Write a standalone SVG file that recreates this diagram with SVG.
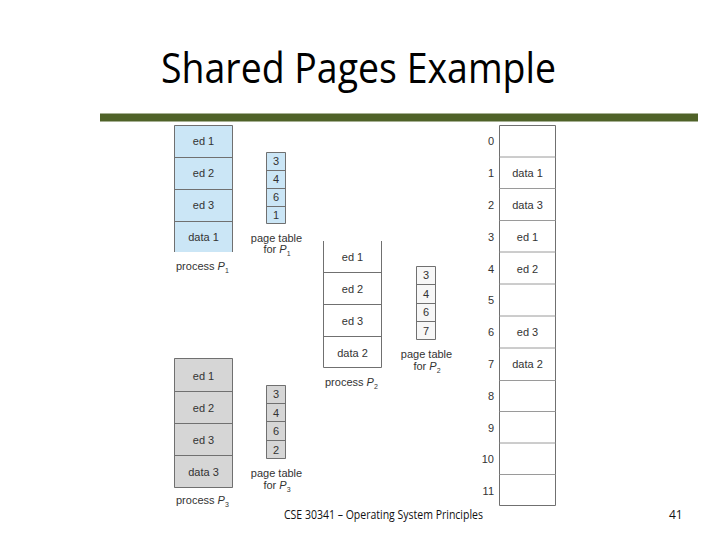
<svg xmlns="http://www.w3.org/2000/svg" width="720" height="540" viewBox="0 0 720 540">
<style>
.t{font-family:"Liberation Sans",Arial,sans-serif;font-size:11px;fill:#333;text-anchor:middle}
.n{font-family:"Liberation Sans",Arial,sans-serif;font-size:11px;fill:#333;text-anchor:end}
.sub{font-size:7px}
.ln{stroke:#707070;stroke-width:1;fill:none}
.lnl{stroke:#9a9a9a;stroke-width:1;fill:none}
.blue{fill:#cbe6f6}
.gray{fill:#d6d6d6}
.white{fill:#ffffff}
.title{font-family:"Open Sans","Liberation Sans",sans-serif;font-size:42px;fill:#000}
.foot{font-family:"Open Sans","Liberation Sans",sans-serif;font-size:12px;fill:#111}
</style>
<rect width="720" height="540" fill="#fff"/>
<g id="title"><text class="title" x="161" y="83" textLength="395" lengthAdjust="spacingAndGlyphs">Shared Pages Example</text></g>
<g id="bar"><rect x="100" y="113.5" width="598" height="8" fill="#4f6228"/></g>

<g id="process-p1">
<rect class="blue" x="174" y="125" width="59" height="127"/>
<path class="ln" d="M174.5 252V125.5H232.5V252M174.5 157.5H232.5M174.5 189.5H232.5M174.5 221.5H232.5"/>
<text class="t" x="203.5" y="145">ed 1</text>
<text class="t" x="203.5" y="177">ed 2</text>
<text class="t" x="203.5" y="209">ed 3</text>
<text class="t" x="203.5" y="240.5">data 1</text>
<text class="t" x="176" y="270" text-anchor="start" style="text-anchor:start">process <tspan font-style="italic">P</tspan><tspan class="sub" dy="3">1</tspan></text>
</g>

<g id="page-table-p1">
<rect class="blue" x="266" y="152" width="20" height="72"/>
<path class="ln" d="M266.5 152.5H285.5V223.5H266.5ZM266.5 170.5H285.5M266.5 188.5H285.5M266.5 206.5H285.5"/>
<text class="t" x="276" y="165">3</text>
<text class="t" x="276" y="183">4</text>
<text class="t" x="276" y="201">6</text>
<text class="t" x="276" y="219">1</text>
<text class="t" x="276.5" y="242">page table</text>
<text class="t" x="277" y="253">for <tspan font-style="italic">P</tspan><tspan class="sub" dy="3">1</tspan></text>
</g>

<g id="process-p2">
<rect class="white" x="323" y="241" width="59" height="127"/>
<path class="ln" d="M323.5 241V367.5H381.5V241M323.5 272.5H381.5M323.5 304.5H381.5M323.5 336.5H381.5"/>
<text class="t" x="352.5" y="261">ed 1</text>
<text class="t" x="352.5" y="293">ed 2</text>
<text class="t" x="352.5" y="324.5">ed 3</text>
<text class="t" x="352.5" y="356.5">data 2</text>
<text class="t" x="325" y="386" style="text-anchor:start">process <tspan font-style="italic">P</tspan><tspan class="sub" dy="3">2</tspan></text>
</g>

<g id="page-table-p2">
<rect fill="#f7f7f7" x="416" y="266" width="20" height="74"/>
<path class="ln" d="M416.5 266.5H435.5V339.5H416.5ZM416.5 284.5H435.5M416.5 303.5H435.5M416.5 321.5H435.5"/>
<text class="t" x="426" y="279">3</text>
<text class="t" x="426" y="298">4</text>
<text class="t" x="426" y="316">6</text>
<text class="t" x="426" y="335">7</text>
<text class="t" x="426.5" y="358">page table</text>
<text class="t" x="427" y="370">for <tspan font-style="italic">P</tspan><tspan class="sub" dy="3">2</tspan></text>
</g>

<g id="process-p3">
<rect class="gray" x="174" y="358" width="59" height="130"/>
<path class="ln" d="M174.5 358.5H232.5V487.5H174.5ZM174.5 391.5H232.5M174.5 423.5H232.5M174.5 455.5H232.5"/>
<text class="t" x="203.5" y="380">ed 1</text>
<text class="t" x="203.5" y="412">ed 2</text>
<text class="t" x="203.5" y="443.5">ed 3</text>
<text class="t" x="203.5" y="475.5">data 3</text>
<text class="t" x="176" y="504" style="text-anchor:start">process <tspan font-style="italic">P</tspan><tspan class="sub" dy="3">3</tspan></text>
</g>

<g id="page-table-p3">
<rect class="gray" x="266" y="385" width="20" height="74"/>
<path class="ln" d="M266.5 385.5H285.5V458.5H266.5ZM266.5 403.5H285.5M266.5 421.5H285.5M266.5 440.5H285.5"/>
<text class="t" x="276" y="398">3</text>
<text class="t" x="276" y="417">4</text>
<text class="t" x="276" y="435">6</text>
<text class="t" x="276" y="454">2</text>
<text class="t" x="276.5" y="477">page table</text>
<text class="t" x="277" y="488.5">for <tspan font-style="italic">P</tspan><tspan class="sub" dy="3">3</tspan></text>
</g>

<g id="physical-memory">
<rect class="white" x="499" y="125" width="57" height="381"/>
<path class="ln" d="M499.5 125.5H555.5V505.5H499.5Z"/>
<path class="lnl" d="M499.5 157H555.5M499.5 188.5H555.5M499.5 220.5H555.5M499.5 252H555.5M499.5 284H555.5M499.5 316H555.5M499.5 348H555.5M499.5 380.5H555.5M499.5 411.5H555.5M499.5 443H555.5M499.5 474.5H555.5"/>
<text class="n" x="494" y="145">0</text>
<text class="n" x="494" y="177">1</text>
<text class="n" x="494" y="209">2</text>
<text class="n" x="494" y="240.5">3</text>
<text class="n" x="494" y="272.5">4</text>
<text class="n" x="494" y="304">5</text>
<text class="n" x="494" y="336">6</text>
<text class="n" x="494" y="368">7</text>
<text class="n" x="494" y="400">8</text>
<text class="n" x="494" y="431.5">9</text>
<text class="n" x="494" y="463">10</text>
<text class="n" x="494" y="494.5">11</text>
<text class="t" x="527.5" y="177">data 1</text>
<text class="t" x="527.5" y="209">data 3</text>
<text class="t" x="527.5" y="240.5">ed 1</text>
<text class="t" x="527.5" y="272.5">ed 2</text>
<text class="t" x="527.5" y="336">ed 3</text>
<text class="t" x="527.5" y="368">data 2</text>
</g>

<g id="connectors"></g>

<g id="footer">
<text class="foot" x="284" y="519" textLength="199" lengthAdjust="spacingAndGlyphs">CSE 30341 – Operating System Principles</text>
<text class="foot" x="669" y="519">41</text>
</g>
</svg>
